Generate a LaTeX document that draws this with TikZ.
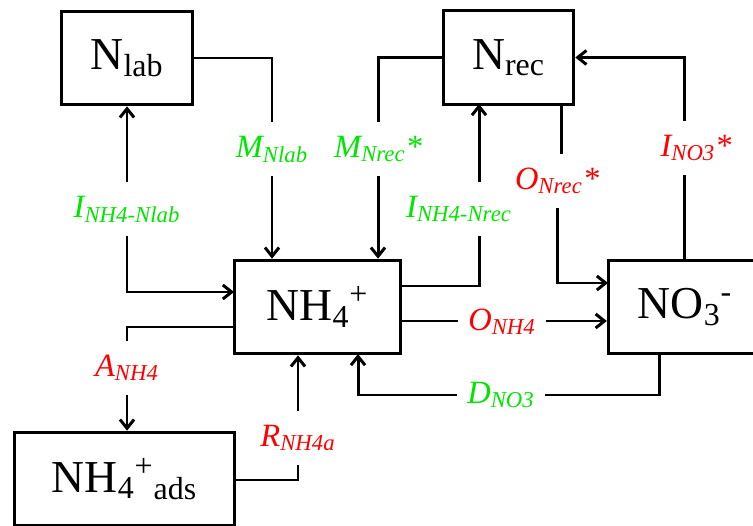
\documentclass[tikz,border=0pt]{standalone}
\usepackage{fontspec}
\setmainfont{Liberation Serif}
\usetikzlibrary{arrows.meta}
\definecolor{flowgreen}{RGB}{0,230,0}
\definecolor{flowred}{RGB}{255,0,0}
\tikzset{
  pool/.style={draw, line width=1.7pt, minimum width=#1, minimum height=53.3pt, inner sep=0pt,
    font=\fontsize{26}{30}\selectfont},
  flow/.style={inner xsep=5pt, inner ysep=6pt, text height=13.5pt, text depth=4pt,
    font=\fontsize{18.5}{22}\selectfont\itshape},
  gain/.style={flow, text=flowgreen},
  loss/.style={flow, text=flowred}
}
\begin{document}
\begin{tikzpicture}[x=0.02cm, y=-0.02cm, line width=1.7pt,
    >={Straight Barb[length=5pt,width=8pt]}]
  \useasboundingbox (0,0) rectangle (753,526);
  \clip (0,0) rectangle (753,526);
  % pools
  \draw
    (127,58) node[pool=74.8pt] (nlab){N\textsubscript{lab}}
    (508.5,57.5) node[pool=74.3pt] (nrec){N\textsubscript{rec}}
    (317.5,307) node[pool=94.7pt] (nh4){NH\textsubscript{4}\textsuperscript{+}}
    (685,307) node[pool=87.3pt] (no3){NO\textsubscript{3}\textsuperscript{-}}
    (124.5,479) node[pool=125.3pt] (nh4ads){NH\textsubscript{4}\textsuperscript{+}\textsubscript{ads}};
  % flow labels
  \draw
    (272,149) node[gain] (mnlab){M\textsubscript{Nlab}}
    (378,149) node[gain] (mnrec){M\textsubscript{Nrec}*}
    (127,209) node[gain] (inlab){I\textsubscript{NH4-Nlab}}
    (459,209) node[gain] (inrec){I\textsubscript{NH4-Nrec}}
    (557,181) node[loss] (onrec){O\textsubscript{Nrec}*}
    (696,148) node[loss] (ino3){I\textsubscript{NO3}*}
    (502,322) node[loss] (onh4){O\textsubscript{NH4}}
    (501,395) node[gain] (dno3){D\textsubscript{NO3}}
    (127,368) node[loss] (anh4){A\textsubscript{NH4}}
    (298,438) node[loss] (rnh4a){R\textsubscript{NH4a}};
  % points where flows meet the pools
  \coordinate (c1) at (234,292);
  \coordinate (c2) at (401,286);
  \coordinate (c3) at (479,104);
  \coordinate (c4) at (561,104);
  \coordinate (c5) at (608,283);
  \coordinate (c6) at (684,260);
  \coordinate (c7) at (401,321);
  \coordinate (c8) at (659,354);
  \coordinate (c9) at (358,354);
  \coordinate (c10) at (234,327);
  \coordinate (c11) at (235,480);
  \begin{scope}[->]
    \draw[-] (nlab.east) -| (mnlab.north);
    \draw (mnlab.south) -- (mnlab.south |- nh4.north);
    \draw (inlab.north) -- (inlab.north |- nlab.south);
    \draw (inlab.south) |- (c1);
    \draw[-] (nrec.west) -| (mnrec.north);
    \draw (mnrec.south) -- (mnrec.south |- nh4.north);
    \draw[-] (c2) -| (c3 |- inrec.south);
    \draw (c3 |- inrec.north) -- (c3);
    \draw[-] (c4) -- (c4 |- onrec.north);
    \draw (onrec.south) |- (c5);
    \draw[-] (c6) -- (c6 |- ino3.south);
    \draw (c6 |- ino3.north) |- (nrec.east);
    \draw[-] (c7) -- (c7 -| onh4.west);
    \draw (onh4.east |- c7) -- (c7 -| no3.west);
    \draw[-] (c8) |- (dno3.east);
    \draw (dno3.west) -| (c9);
    \draw[-] (c10) -| (anh4.north);
    \draw (anh4.south) -- (anh4.south |- nh4ads.north);
    \draw[-] (c11) -| (rnh4a.south);
    \draw (rnh4a.north) -- (rnh4a.north |- nh4.south);
  \end{scope}
\end{tikzpicture}
\end{document}
